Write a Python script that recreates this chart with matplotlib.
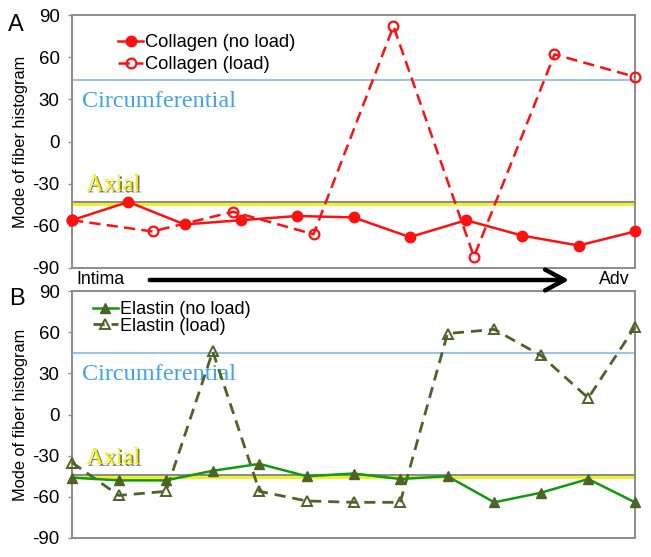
import numpy as np
import matplotlib.pyplot as plt
import matplotlib.patheffects as pe
from matplotlib.patches import FancyArrowPatch, ArrowStyle

plt.rcParams['font.family'] = ['Liberation Sans', 'DejaVu Sans']
plt.rcParams['axes.unicode_minus'] = False

# wall depth, intima (0) -> adventitia (1)
col_noload_x = [0, 0.1, 0.2, 0.3, 0.4, 0.5, 0.6, 0.7, 0.8, 0.9, 1.0]
col_noload = [-56, -43, -59, -56, -53, -54, -68, -56, -67, -74, -64]
col_load_x = [0, 0.143, 0.286, 0.429, 0.571, 0.714, 0.857, 1.0]
col_load = [-56, -64, -50, -66, 82, -82, 62, 46]

ela_x = [0, 0.083, 0.167, 0.25, 0.333, 0.417, 0.5, 0.583, 0.667, 0.75, 0.833, 0.917, 1.0]
ela_noload = [-46, -48, -48, -41, -36, -45, -43, -47, -45, -64, -57, -47, -64]
ela_load = [-35, -59, -56, 46, -56, -63, -64, -64, 59, 62, 43, 12, 64]

circ_A, axial_A = 44, -44.5
circ_B, axial_B = 45, -45.5
yticks = [-90, -60, -30, 0, 30, 60, 90]

W, H = 651, 557
fig = plt.figure(figsize=(W / 100, H / 100), dpi=100)

def px_axes(l, t, r, b):
    return fig.add_axes([l / W, 1 - b / H, (r - l) / W, (b - t) / H])

axA = px_axes(72, 15, 635, 268)
axB = px_axes(72, 291, 635, 538)

frame = '#8c8c8c'
blue_line = '#9dc3e6'
blue_txt = '#41a4ea'
red = '#ff1010'
green = '#109a10'
olive = '#4f6228'
shadow = [pe.SimplePatchShadow(offset=(1.3, -1.3), shadow_rgbFace='#3a3a3a', alpha=0.7), pe.Normal()]

for ax, circ, axial in [(axA, circ_A, axial_A), (axB, circ_B, axial_B)]:
    ax.set_xlim(0, 1)
    ax.set_ylim(-90, 90)
    ax.set_yticks(yticks)
    ax.set_xticks([])
    for s in ax.spines.values():
        s.set_color(frame)
        s.set_linewidth(1.4)
    ax.tick_params(axis='y', length=3, width=1, color=frame, pad=6, labelsize=13.5)
    ax.set_ylabel('Mode of fiber histogram', fontsize=11.8)
    ax.yaxis.set_label_coords(-0.078, 0.5)
    ax.axhline(circ, color=blue_line, lw=1.5, zorder=1)
    ax.axhline(axial + 1.3, color='#8c8c8c', lw=1.5, zorder=1)
    ax.axhline(axial, color='#f0f000', lw=1.8, zorder=1)
    ax.text(0.018, circ - 15.5, 'Circumferential', color=blue_txt, fontsize=17.5,
            family='Liberation Serif', va='center')
    ax.text(0.025, axial + 13.5, 'Axial', color='#f2f200', fontsize=17.5,
            family='Liberation Serif', va='center', path_effects=shadow)

# panel A
axA.plot(col_noload_x, col_noload, color=red, lw=1.8, marker='o', ms=7.5,
         mfc=red, mec=red, label='Collagen (no load)', clip_on=False, zorder=4)
axA.plot(col_load_x, col_load, color=red, lw=1.8, dashes=(4.5, 2.5), marker='o', ms=7,
         mfc='none', mec=red, mew=1.6, label='Collagen (load)', clip_on=False, zorder=3)
axA.legend(loc='upper left', bbox_to_anchor=(0.082, 0.925), frameon=False, fontsize=13.2,
           handlelength=1.35, handletextpad=0.1, labelspacing=0.3, borderpad=0,
           borderaxespad=0)

# panel B
axB.plot(ela_x, ela_noload, color=green, lw=1.8, marker='^', ms=7,
         mfc=olive, mec=olive, label='Elastin (no load)', clip_on=False, zorder=4)
axB.plot(ela_x, ela_load, color=olive, lw=2, dashes=(4, 2.5), marker='^', ms=7.5,
         mfc='none', mec=olive, mew=1.4, label='Elastin (load)', clip_on=False, zorder=3)
axB.legend(loc='upper left', bbox_to_anchor=(0.037, 0.96), frameon=False, fontsize=13,
           handlelength=1.4, handletextpad=0.1, labelspacing=-0.02, borderpad=0,
           borderaxespad=0)

# panel letters and depth arrow
fig.text(16 / W, 1 - 25 / H, 'A', fontsize=17, ha='center', va='center')
fig.text(17 / W, 1 - 299 / H, 'B', fontsize=17, ha='center', va='center')
fig.text(76 / W, 1 - 280 / H, 'Intima', fontsize=12.8, ha='left', va='center')
fig.text(630 / W, 1 - 280 / H, 'Adv', fontsize=12.8, ha='right', va='center')
arr = FancyArrowPatch((147 / W, 1 - 280 / H), (572 / W, 1 - 280 / H),
                      transform=fig.transFigure,
                      arrowstyle=ArrowStyle('->', head_length=14, head_width=7.5),
                      mutation_scale=1, lw=3.2, color='black')
fig.add_artist(arr)

fig.savefig('out.png', dpi=100)
